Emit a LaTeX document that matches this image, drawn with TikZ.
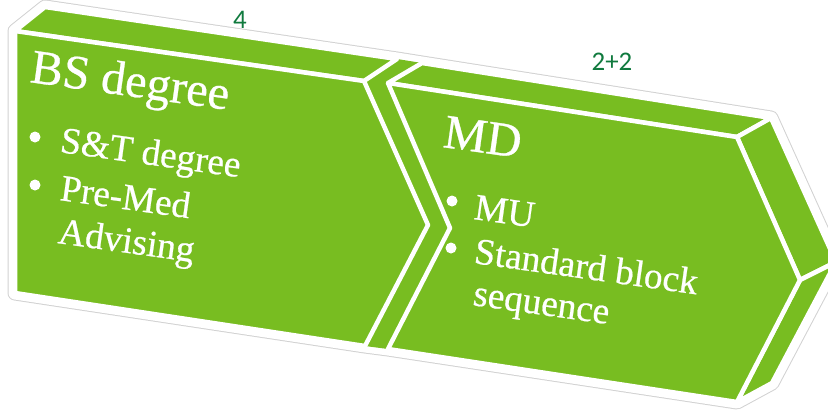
\documentclass[tikz,border=0pt]{standalone}
\usepackage{fontspec}
\setmainfont{Liberation Serif}
\newfontfamily\boxfont[FakeBold=0.6]{Liberation Serif}
\newfontfamily\labelfont{Carlito}
\definecolor{chev}{RGB}{120,189,33}
\definecolor{lab}{RGB}{16,122,62}
\begin{document}
\begin{tikzpicture}[x=1bp,y=-1bp,
  face/.style={fill=chev,draw=white,line width=4.5bp,line join=round},
  txt/.style={text=white,anchor=base west,rotate=-8,inner sep=0pt,font=\boxfont\fontsize{37.5}{40}\selectfont},
  head/.style={txt,font=\boxfont\fontsize{48.5}{50}\selectfont},
  dot/.style={circle,fill=white,inner sep=0pt,minimum size=11bp},
  num/.style={text=lab,font=\labelfont\fontsize{27}{28}\selectfont,inner sep=0pt}]
\useasboundingbox (0,0) rectangle (828,411);
\clip (0,0) rectangle (828,411);
% outer silhouette with halo
\def\silhouette{(15,31)--(45,7)--(397,59)--(422,63)--(771,118)--(836,262)--(772,383)--(737,402)--(388,349)--(365,346)--(15,293)--cycle}
\path[draw=gray!35,line width=15bp,line join=round] \silhouette;
\path[draw=white,line width=13bp,line join=round] \silhouette;
\path[fill=chev] \silhouette;
% chevron 1
\path[face] (15,31)--(45,7)--(397,59)--(364,81)--cycle;
\path[face] (15,31)--(364,81)--(428,225)--(365,346)--(15,293)--cycle;
% chevron 2
\path[face] (388,83)--(422,63)--(771,118)--(737,137)--cycle;
\path[face] (737,137)--(771,118)--(836,262)--(800,280)--cycle;
\path[face] (800,280)--(836,262)--(772,383)--(737,402)--cycle;
\path[face] (388,83)--(737,137)--(800,280)--(737,402)--(388,349)--(450,228)--cycle;
% texts
\node[head] (bs) at (29,82) {BS degree};
\node[dot] (b1) at (35,137) {};
\node[txt] (st) at (59,152) {S\&T degree};
\node[dot] (b2) at (35,185) {};
\node[txt] (pm) at (59,200) {Pre-Med};
\node[txt] (adv) at (57,243) {Advising};
\node[head] (md) at (442,147) {MD};
\node[dot] (b3) at (452,201) {};
\node[txt] (mu) at (473,219) {MU};
\node[dot] (b4) at (451,248) {};
\node[txt] (sb) at (473,263) {Standard block};
\node[txt] (sq) at (472,305) {sequence};
\node[num] (n4) at (240,20) {4};
\node[num] (n22) at (612,62) {2+2};
\end{tikzpicture}
\end{document}
